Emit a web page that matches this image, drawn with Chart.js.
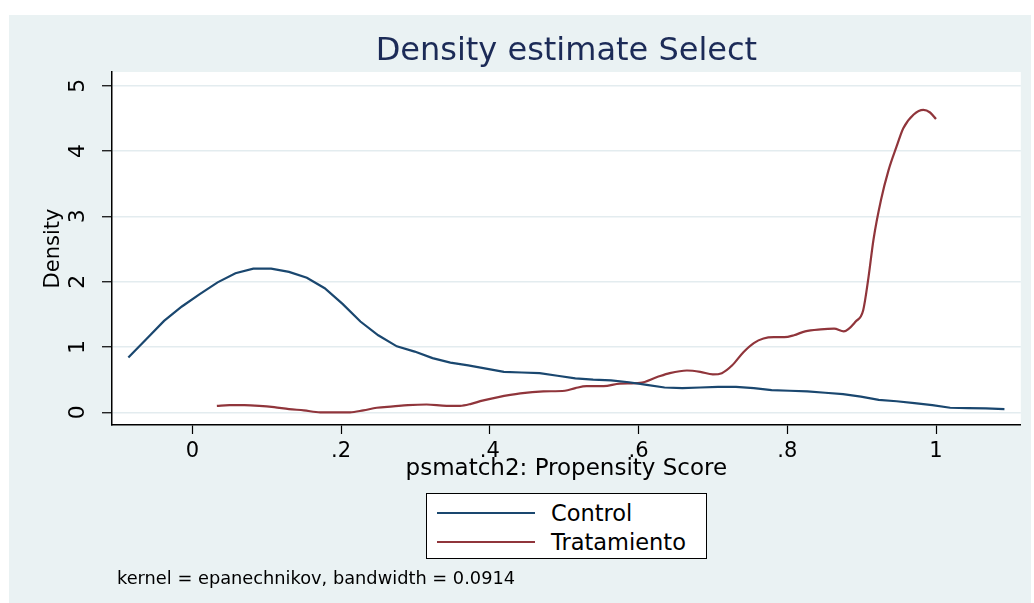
<!DOCTYPE html>
<html>
<head>
<meta charset="utf-8">
<script src="https://cdn.jsdelivr.net/npm/chart.js@4.4.1/dist/chart.umd.min.js"></script>
<style>
  html, body { margin: 0; padding: 0; background: #ffffff; }
  #wrap { position: relative; width: 1034px; height: 603px; overflow: hidden; }
  #c { position: absolute; left: 0; top: 0; }
  #legend {
    position: absolute; left: 426px; top: 493px; width: 279px; height: 64px;
    border: 1px solid #000; background: #ffffff;
    font-family: "DejaVu Sans", sans-serif; font-size: 22.5px; color: #000;
  }
  .item { position: absolute; left: 0; height: 28px; width: 279px; }
  .swatch { position: absolute; left: 10px; width: 98px; height: 2px; }
  .lab { position: absolute; left: 124px; line-height: 28px; top: 0; white-space: nowrap; }
  #note {
    position: absolute; left: 117px; top: 567px;
    font-family: "DejaVu Sans", sans-serif; font-size: 17.8px; color: #000; white-space: nowrap;
  }
</style>
</head>
<body>
<div id="wrap">
  <canvas id="c" width="1034" height="603"></canvas>
  <div id="legend"></div>
  <div id="note">kernel = epanechnikov, bandwidth = 0.0914</div>
</div>
<script>
// ---- data ----
const seriesNames = ['Control', 'Tratamiento'];
const seriesColors = ['#1a476f', '#90353b'];

const controlX = [-0.086, -0.062, -0.038, -0.014, 0.010, 0.034, 0.058, 0.082, 0.106, 0.130,
  0.154, 0.178, 0.202, 0.226, 0.250, 0.275, 0.299, 0.323, 0.347, 0.371,
  0.395, 0.419, 0.443, 0.467, 0.491, 0.515, 0.539, 0.563, 0.587, 0.611,
  0.635, 0.659, 0.683, 0.707, 0.731, 0.755, 0.779, 0.803, 0.827, 0.851,
  0.875, 0.899, 0.923, 0.947, 0.971, 0.995, 1.019, 1.043, 1.067, 1.092];
const controlY = [0.84, 1.12, 1.40, 1.62, 1.81, 1.99, 2.13, 2.20, 2.20, 2.15,
  2.06, 1.90, 1.66, 1.39, 1.18, 1.01, 0.93, 0.83, 0.76, 0.72,
  0.67, 0.62, 0.61, 0.60, 0.56, 0.52, 0.50, 0.49, 0.46, 0.42,
  0.38, 0.37, 0.38, 0.39, 0.39, 0.37, 0.34, 0.33, 0.32, 0.30,
  0.28, 0.24, 0.19, 0.17, 0.14, 0.11, 0.07, 0.065, 0.06, 0.05];

const tratX = [0.033, 0.050, 0.070, 0.090, 0.110, 0.130, 0.150, 0.172, 0.192, 0.212,
  0.230, 0.248, 0.270, 0.290, 0.315, 0.342, 0.360, 0.375, 0.390, 0.410,
  0.441, 0.472, 0.501, 0.515, 0.530, 0.553, 0.575, 0.602, 0.625, 0.642,
  0.665, 0.683, 0.700, 0.712, 0.726, 0.741, 0.755, 0.768, 0.782, 0.796,
  0.809, 0.824, 0.845, 0.863, 0.876, 0.892, 0.902, 0.909, 0.916, 0.926,
  0.936, 0.947, 0.956, 0.970, 0.983, 0.992, 1.000];
const tratY = [0.10, 0.11, 0.11, 0.10, 0.08, 0.05, 0.03, 0.00, 0.00, 0.00,
  0.03, 0.07, 0.09, 0.11, 0.12, 0.10, 0.10, 0.13, 0.18, 0.23,
  0.29, 0.32, 0.33, 0.37, 0.40, 0.40, 0.44, 0.45, 0.54, 0.60,
  0.64, 0.62, 0.58, 0.60, 0.72, 0.92, 1.06, 1.13, 1.15, 1.15,
  1.18, 1.24, 1.27, 1.28, 1.24, 1.39, 1.56, 2.05, 2.65, 3.25,
  3.70, 4.07, 4.35, 4.56, 4.63, 4.59, 4.49];

const xTickValues = [0, 0.2, 0.4, 0.6, 0.8, 1];
const xTickLabels = ['0', '.2', '.4', '.6', '.8', '1'];
const yTickValues = [0, 1, 2, 3, 4, 5];
const yTickLabels = ['0', '1', '2', '3', '4', '5'];

const titleText = 'Density estimate Select';
const xTitleText = 'psmatch2: Propensity Score';
const yTitleText = 'Density';

// ---- build ----
const FONT = '"DejaVu Sans", sans-serif';
const toPts = (xs, ys) => xs.map((x, i) => ({ x: x, y: ys[i] }));

const bgPlugin = {
  id: 'bg',
  beforeDraw(chart) {
    const ctx = chart.ctx;
    const a = chart.chartArea;
    ctx.save();
    ctx.fillStyle = '#ffffff';
    ctx.fillRect(0, 0, chart.width, chart.height);
    ctx.fillStyle = '#eaf2f3';
    ctx.fillRect(9, 15, 1022, 588);
    ctx.fillStyle = '#ffffff';
    ctx.fillRect(a.left, a.top, a.right - a.left, a.bottom - a.top);
    ctx.restore();
  }
};

const chart = new Chart(document.getElementById('c'), {
  type: 'line',
  data: {
    datasets: [
      { label: seriesNames[0], data: toPts(controlX, controlY), borderColor: seriesColors[0],
        borderWidth: 2.2, pointRadius: 0, tension: 0, fill: false },
      { label: seriesNames[1], data: toPts(tratX, tratY), borderColor: seriesColors[1],
        borderWidth: 2.2, pointRadius: 0, cubicInterpolationMode: 'monotone', fill: false }
    ]
  },
  options: {
    responsive: false,
    animation: false,
    devicePixelRatio: 1,
    layout: { padding: { left: 40.5, right: 13.2, top: 0, bottom: 120 } },
    plugins: {
      legend: { display: false },
      tooltip: { enabled: false },
      title: {
        display: true, text: titleText, fullSize: false, color: '#1c2b57',
        font: { family: FONT, size: 32, weight: 'normal' },
        padding: { top: 32, bottom: 1.6 }
      }
    },
    scales: {
      x: {
        type: 'linear', min: -0.108, max: 1.114,
        afterBuildTicks: s => { s.ticks = xTickValues.map(v => ({ value: v })); },
        afterFit: s => { s.height = 58; },
        ticks: { autoSkip: false, maxRotation: 0, padding: 5, color: '#000',
          font: { family: FONT, size: 21 }, callback: (v, i) => xTickLabels[i] },
        grid: { drawOnChartArea: false, drawTicks: true, tickLength: 9, tickColor: '#000', tickWidth: 1.2 },
        border: { display: true, color: '#000', width: 1.5 },
        title: { display: true, text: xTitleText, color: '#000', padding: 0,
          font: { family: FONT, size: 23 } }
      },
      y: {
        type: 'linear', min: -0.194, max: 5.21,
        afterBuildTicks: s => { s.ticks = yTickValues.map(v => ({ value: v })); },
        afterFit: s => { s.width = 71.5; },
        ticks: { minRotation: 90, maxRotation: 90, crossAlign: 'center', padding: 17, color: '#000',
          font: { family: FONT, size: 22 }, callback: (v, i) => yTickLabels[i] },
        grid: { color: '#e3ecef', lineWidth: 1.5, drawTicks: true, tickLength: 10, tickColor: '#000', tickWidth: 1.2 },
        border: { display: true, color: '#000', width: 1.5 },
        title: { display: true, text: yTitleText, color: '#000', padding: 0,
          font: { family: FONT, size: 21 } }
      }
    }
  },
  plugins: [bgPlugin]
});

// ---- legend box (built from the chart's datasets) ----
const legendEl = document.getElementById('legend');
chart.data.datasets.forEach((ds, i) => {
  const item = document.createElement('div');
  item.className = 'item';
  item.style.top = (5 + i * 29) + 'px';
  const sw = document.createElement('div');
  sw.className = 'swatch';
  sw.style.top = '13px';
  sw.style.background = ds.borderColor;
  const lab = document.createElement('div');
  lab.className = 'lab';
  lab.textContent = ds.label;
  item.appendChild(sw);
  item.appendChild(lab);
  legendEl.appendChild(item);
});
</script>
</body>
</html>
